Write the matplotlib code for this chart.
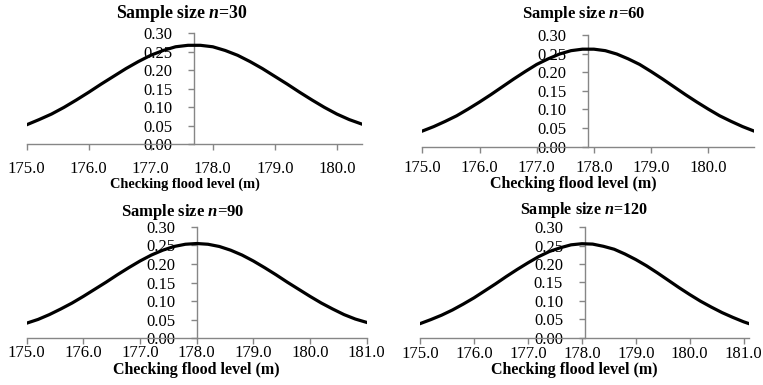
import matplotlib
matplotlib.use("Agg")
import matplotlib.pyplot as plt
import numpy as np

plt.rcParams['font.family'] = ['Liberation Serif', 'DejaVu Serif']
plt.rcParams['mathtext.fontset'] = 'custom'
plt.rcParams['mathtext.rm'] = 'Liberation Serif'
plt.rcParams['mathtext.bf'] = 'Liberation Serif:bold'
plt.rcParams['mathtext.bfit'] = 'Liberation Serif:italic:bold'

# Probability density of the checking flood level for each sample size
sample_sizes = [30, 60, 90, 120]

level_30 = [175.0, 175.2, 175.4, 175.6, 175.8, 176.0, 176.2, 176.4, 176.6, 176.8,
            177.0, 177.2, 177.4, 177.6, 177.8, 178.0, 178.2, 178.4, 178.6, 178.8,
            179.0, 179.2, 179.4, 179.6, 179.8, 180.0, 180.2, 180.4]
density_30 = [0.052, 0.066, 0.081, 0.099, 0.119, 0.140, 0.162, 0.183, 0.204, 0.223,
              0.240, 0.253, 0.263, 0.267, 0.267, 0.263, 0.253, 0.240, 0.223, 0.204,
              0.183, 0.162, 0.140, 0.119, 0.099, 0.081, 0.066, 0.054]

level_60 = [175.0, 175.2, 175.4, 175.6, 175.8, 176.0, 176.2, 176.4, 176.6, 176.8,
            177.0, 177.2, 177.4, 177.6, 177.8, 178.0, 178.2, 178.4, 178.6, 178.8,
            179.0, 179.2, 179.4, 179.6, 179.8, 180.0, 180.2, 180.4, 180.6, 180.8]
density_60 = [0.042, 0.054, 0.068, 0.083, 0.101, 0.120, 0.140, 0.161, 0.182, 0.202,
              0.221, 0.236, 0.249, 0.258, 0.262, 0.262, 0.258, 0.249, 0.236, 0.221,
              0.202, 0.182, 0.161, 0.140, 0.120, 0.101, 0.083, 0.068, 0.054, 0.042]

level_90 = [175.0, 175.2, 175.4, 175.6, 175.8, 176.0, 176.2, 176.4, 176.6, 176.8,
            177.0, 177.2, 177.4, 177.6, 177.8, 178.0, 178.2, 178.4, 178.6, 178.8,
            179.0, 179.2, 179.4, 179.6, 179.8, 180.0, 180.2, 180.4, 180.6, 180.8,
            181.0]
density_90 = [0.041, 0.051, 0.064, 0.079, 0.095, 0.113, 0.132, 0.151, 0.171, 0.190,
              0.208, 0.224, 0.237, 0.247, 0.253, 0.255, 0.253, 0.247, 0.237, 0.224,
              0.208, 0.190, 0.171, 0.151, 0.132, 0.113, 0.095, 0.079, 0.064, 0.052,
              0.043]

level_120 = [175.0, 175.2, 175.4, 175.6, 175.8, 176.0, 176.2, 176.4, 176.6, 176.8,
             177.0, 177.2, 177.4, 177.6, 177.8, 178.0, 178.2, 178.4, 178.6, 178.8,
             179.0, 179.2, 179.4, 179.6, 179.8, 180.0, 180.2, 180.4, 180.6, 180.8,
             181.0, 181.1]
density_120 = [0.038, 0.049, 0.061, 0.075, 0.091, 0.108, 0.127, 0.146, 0.166, 0.185,
               0.203, 0.220, 0.234, 0.244, 0.252, 0.255, 0.254, 0.248, 0.240, 0.227,
               0.212, 0.195, 0.176, 0.156, 0.136, 0.117, 0.099, 0.083, 0.068, 0.055,
               0.043, 0.038]

# where the vertical axis crosses, and the right end of each horizontal axis
cross_at = [177.7, 177.9, 178.0, 178.05]
x_max = [180.4, 180.8, 181.0, 181.1]

levels = [level_30, level_60, level_90, level_120]
densities = [density_30, density_60, density_90, density_120]

# axes rectangles in figure fractions, plus per-panel text placement and sizes
boxes = [[0.035, 0.626, 0.439, 0.288],
         [0.5535, 0.619, 0.4347, 0.290],
         [0.035, 0.121, 0.4456, 0.290],
         [0.5505, 0.123, 0.4312, 0.287]]
title_pos = [(0.463, 1.138), (0.4875, 1.152), (0.46, 1.10), (0.498, 1.115)]
title_size = [12.8, 12.0, 12.0, 11.6]
xlabel_pos = [(0.4725, -0.30), (0.454, -0.26), (0.50, -0.21), (0.468, -0.217)]
xlabel_size = [10.4, 11.5, 11.5, 11.5]
xtick_pad = [8.5, 5.5, 0.8, 2]

axis_grey = '#868686'

fig = plt.figure(figsize=(7.63, 3.85), dpi=100)

for i in range(4):
    ax = fig.add_axes(boxes[i])
    ax.plot(levels[i], densities[i], color='black', linewidth=2.3, zorder=3)
    ax.set_xlim(175.0, x_max[i])
    ax.set_ylim(0, 0.30)
    xt = np.arange(175.0, x_max[i] + 0.01, 1.0)
    ax.set_xticks(xt)
    ax.set_xticklabels(['%.1f' % t for t in xt])
    yt = np.arange(0, 0.301, 0.05)
    ax.set_yticks(yt)
    ax.set_yticklabels(['%.2f' % t for t in yt])

    for s in ['top', 'right']:
        ax.spines[s].set_visible(False)
    ax.spines['left'].set_position(('data', cross_at[i]))
    ax.spines['left'].set_color(axis_grey)
    ax.spines['bottom'].set_color(axis_grey)
    ax.spines['left'].set_linewidth(1.0)
    ax.spines['bottom'].set_linewidth(1.0)
    ax.patch.set_visible(False)

    ax.tick_params(axis='x', direction='out', length=4, width=1.0, color=axis_grey,
                   labelsize=12, pad=xtick_pad[i])
    ax.tick_params(axis='y', direction='out', length=4, width=1.0, color=axis_grey,
                   labelsize=12, pad=11.5)

    ax.text(title_pos[i][0], title_pos[i][1],
            r'Sample size $\mathbfit{n}$=%d' % sample_sizes[i],
            transform=ax.transAxes, ha='center', va='baseline',
            fontsize=title_size[i], fontweight='bold')
    ax.set_xlabel('Checking flood level (m)', fontsize=xlabel_size[i], fontweight='bold')
    ax.xaxis.set_label_coords(*xlabel_pos[i])

fig.savefig('out.png', dpi=100)
